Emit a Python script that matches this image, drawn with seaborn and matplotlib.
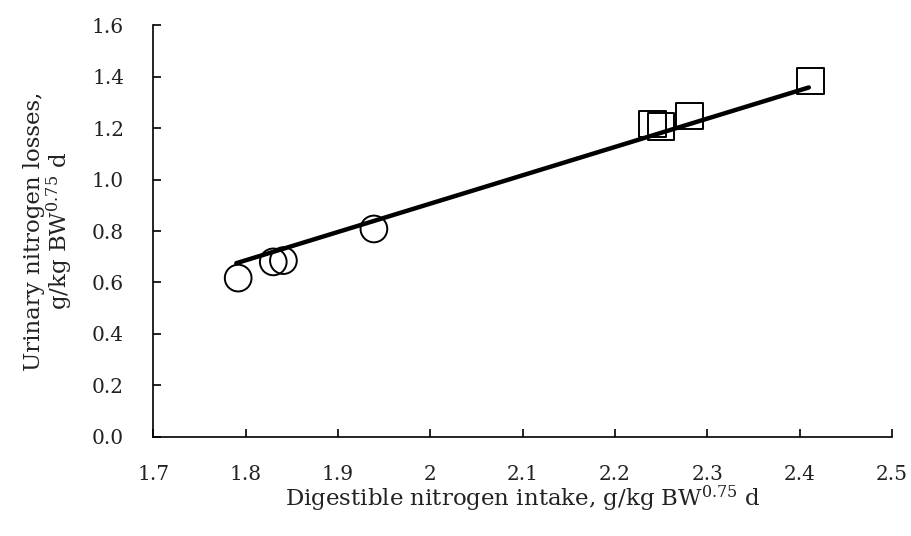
import matplotlib
matplotlib.use("Agg")
import matplotlib.pyplot as plt
from matplotlib.ticker import FuncFormatter, MultipleLocator
import pandas as pd
import seaborn as sns

# data
circle_x = [1.792, 1.830, 1.841, 1.939]
circle_y = [0.617, 0.680, 0.685, 0.808]
square_x = [2.241, 2.250, 2.281, 2.412]
square_y = [1.216, 1.205, 1.247, 1.383]
fit_x = [1.79, 2.41]
fit_y = [0.675, 1.358]

sns.set_theme(style="white")
plt.rcParams["font.family"] = ["DejaVu Serif"]
plt.rcParams["mathtext.fontset"] = "dejavuserif"

circles = pd.DataFrame({"x": circle_x, "y": circle_y})
squares = pd.DataFrame({"x": square_x, "y": square_y})
fit = pd.DataFrame({"x": fit_x, "y": fit_y})

fig = plt.figure(figsize=(9.12, 5.36), dpi=100)
ax = fig.add_axes([0.168, 0.185, 0.810, 0.768])

sns.lineplot(data=fit, x="x", y="y", color="black", linewidth=3.2, ax=ax, zorder=3)
sns.scatterplot(data=circles, x="x", y="y", marker="o", s=370, facecolor="none",
                edgecolor="black", linewidth=1.4, ax=ax, zorder=2)
sns.scatterplot(data=squares, x="x", y="y", marker="s", s=370, facecolor="none",
                edgecolor="black", linewidth=1.4, ax=ax, zorder=2)

ax.set_xlim(1.7, 2.5)
ax.set_ylim(0, 1.6)
ax.xaxis.set_major_locator(MultipleLocator(0.1))
ax.yaxis.set_major_locator(MultipleLocator(0.2))
ax.xaxis.set_major_formatter(FuncFormatter(lambda v, p: f"{v:g}"))
ax.yaxis.set_major_formatter(FuncFormatter(lambda v, p: f"{v:.1f}"))

for side in ["top", "right"]:
    ax.spines[side].set_visible(False)
for side in ["left", "bottom"]:
    ax.spines[side].set_linewidth(1.2)
    ax.spines[side].set_color("black")

ax.tick_params(axis="x", bottom=True, direction="in", length=6, width=1.2, pad=20,
               labelsize=14.5, colors="black", labelcolor="#222222")
ax.tick_params(axis="y", left=True, direction="in", length=6, width=1.2, pad=21,
               labelsize=14.5, colors="black", labelcolor="#222222")

ax.set_xlabel("Digestible nitrogen intake, g/kg BW$^{0.75}$ d", fontsize=16.5,
              labelpad=0, color="#222222")
ax.set_ylabel("Urinary nitrogen losses,\ng/kg BW$^{0.75}$ d", fontsize=16.5,
              labelpad=12, linespacing=1.0, color="#222222")

fig.savefig("out.png", dpi=100)
